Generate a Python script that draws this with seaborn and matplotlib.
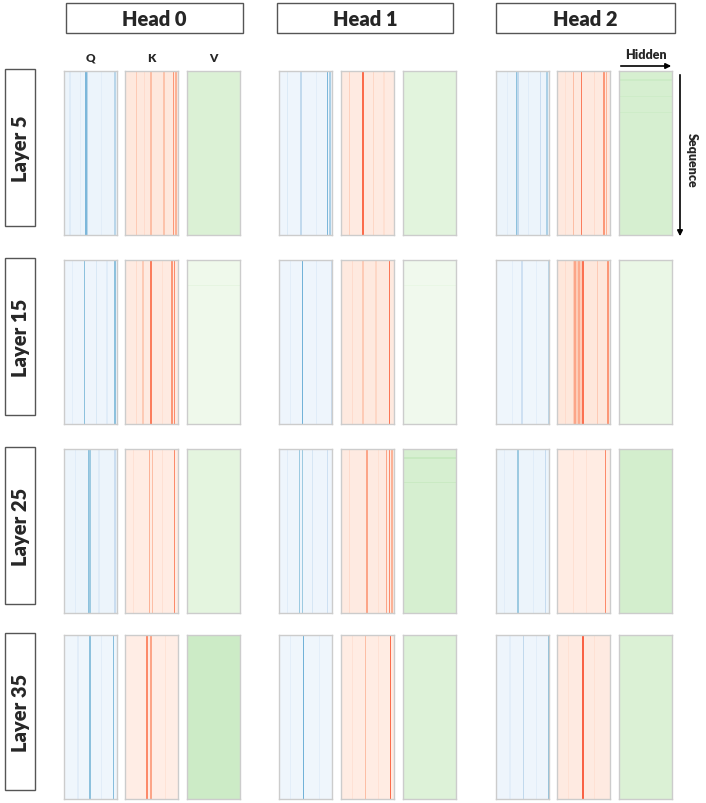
import numpy as np
import matplotlib
matplotlib.use("Agg")
import matplotlib.pyplot as plt
from matplotlib.patches import Rectangle, FancyArrowPatch
import seaborn as sns

sns.set_theme(style="white")
plt.rcParams['font.family'] = ['Lato', 'DejaVu Sans']

heads = ["Head 0", "Head 1", "Head 2"]
layers = ["Layer 5", "Layer 15", "Layer 25", "Layer 35"]
kinds = ["Q", "K", "V"]
cmaps = {"Q": "Blues", "K": "Reds", "V": "Greens"}
vmaxs = {"Q": 1.2, "K": 1.25, "V": 1.0}

# background level of each panel, rows = layers, cols = heads
q_base = [[0.07, 0.06, 0.07], [0.06, 0.06, 0.05], [0.07, 0.06, 0.07], [0.05, 0.05, 0.06]]
k_base = [[0.10, 0.08, 0.09], [0.08, 0.09, 0.11], [0.07, 0.08, 0.07], [0.06, 0.07, 0.08]]
v_base = [[0.17, 0.14, 0.19], [0.06, 0.05, 0.09], [0.13, 0.19, 0.20], [0.23, 0.16, 0.17]]

# dark columns: (position across hidden dim 0-1, level)
q_stripes = [
    [[(0.10, 0.15), (0.30, 0.13), (0.42, 0.55), (0.44, 0.35), (0.70, 0.13), (0.97, 0.35)],
     [(0.15, 0.16), (0.42, 0.32), (0.70, 0.13), (0.92, 0.55), (0.95, 0.40)],
     [(0.20, 0.13), (0.39, 0.50), (0.42, 0.32), (0.62, 0.14), (0.83, 0.28), (0.95, 0.40)]],
    [[(0.15, 0.13), (0.39, 0.50), (0.60, 0.18), (0.80, 0.14), (0.97, 0.50)],
     [(0.20, 0.13), (0.43, 0.58), (0.70, 0.14), (0.98, 0.28)],
     [(0.30, 0.12), (0.49, 0.25), (0.75, 0.12), (0.99, 0.35)]],
    [[(0.20, 0.14), (0.45, 0.50), (0.49, 0.45), (0.65, 0.15), (0.97, 0.28)],
     [(0.15, 0.14), (0.39, 0.45), (0.44, 0.45), (0.64, 0.20), (0.92, 0.25)],
     [(0.15, 0.13), (0.41, 0.45), (0.70, 0.14), (0.93, 0.30)]],
    [[(0.25, 0.13), (0.49, 0.50), (0.70, 0.13), (0.93, 0.52)],
     [(0.20, 0.12), (0.45, 0.58), (0.75, 0.12)],
     [(0.25, 0.12), (0.50, 0.32), (0.75, 0.13), (0.98, 0.50)]],
]
k_stripes = [
    [[(0.20, 0.25), (0.35, 0.18), (0.49, 0.30), (0.73, 0.28), (0.91, 0.45), (0.95, 0.35)],
     [(0.15, 0.22), (0.42, 0.62), (0.60, 0.20), (0.80, 0.16)],
     [(0.15, 0.16), (0.30, 0.30), (0.46, 0.55), (0.70, 0.18), (0.89, 0.45), (0.94, 0.35)]],
    [[(0.20, 0.18), (0.34, 0.25), (0.48, 0.55), (0.70, 0.16), (0.89, 0.45), (0.94, 0.50)],
     [(0.20, 0.18), (0.42, 0.25), (0.65, 0.20), (0.92, 0.58)],
     [(0.15, 0.18), (0.34, 0.40), (0.42, 0.38), (0.49, 0.60), (0.75, 0.25), (0.96, 0.45)]],
    [[(0.15, 0.15), (0.46, 0.35), (0.50, 0.30), (0.70, 0.16), (0.94, 0.50)],
     [(0.15, 0.18), (0.49, 0.40), (0.70, 0.16), (0.87, 0.40), (0.91, 0.50), (0.97, 0.35)],
     [(0.30, 0.16), (0.55, 0.15), (0.90, 0.50)]],
    [[(0.41, 0.50), (0.49, 0.40), (0.75, 0.14)],
     [(0.20, 0.15), (0.45, 0.30), (0.70, 0.15), (0.93, 0.62)],
     [(0.20, 0.15), (0.49, 0.65), (0.70, 0.15)]],
]
# wider darker bands: (start, end, level) across hidden dim
k_bands = [[[], [], []],
           [[], [], [(0.32, 0.52, 0.24)]],
           [[], [], []],
           [[], [], []]]
# darker rows in V: (position down the sequence 0-1, level)
v_rows = [[[], [], [(0.05, 0.23), (0.15, 0.22), (0.25, 0.22)]],
          [[(0.15, 0.12)], [(0.15, 0.10)], []],
          [[], [(0.05, 0.25), (0.20, 0.24)], []],
          [[], [], []]]

n_rows, n_cols = 120, 40

# panel positions in pixels
col_x = [[64, 125, 187], [279, 341, 403], [496, 557, 619]]
row_y = [72, 261, 450, 636]
pw, ph = 53, 164
W, H = 706, 804


def panel_matrix(li, hi, kind):
    if kind == "Q":
        m = np.full((n_rows, n_cols), q_base[li][hi])
        cols = q_stripes[li][hi]
    elif kind == "K":
        m = np.full((n_rows, n_cols), k_base[li][hi])
        cols = k_stripes[li][hi]
        for a, b, lv in k_bands[li][hi]:
            sl = slice(int(a * n_cols), int(b * n_cols))
            m[:, sl] = np.maximum(m[:, sl], lv)
    else:
        m = np.full((n_rows, n_cols), v_base[li][hi])
        cols = []
        for p, lv in v_rows[li][hi]:
            m[min(int(p * n_rows), n_rows - 1), :] = lv
    for p, lv in cols:
        j = min(int(p * n_cols), n_cols - 1)
        m[:, j] = np.maximum(m[:, j], lv)
    return m


fig = plt.figure(figsize=(W / 100, H / 100), dpi=100)


def fx(x):
    return x / W


def fy(y):
    return 1 - y / H


for li in range(4):
    for hi in range(3):
        for ki, kind in enumerate(kinds):
            x0 = col_x[hi][ki]
            y0 = row_y[li]
            ax = fig.add_axes([fx(x0), fy(y0 + ph), pw / W, ph / H])
            sns.heatmap(panel_matrix(li, hi, kind), ax=ax, cmap=cmaps[kind], vmin=0, vmax=vmaxs[kind],
                        cbar=False, xticklabels=False, yticklabels=False)
            for s in ax.spines.values():
                s.set_visible(True)
                s.set_color("#cccccc")
                s.set_linewidth(1.0)

# head title boxes
head_x = [(66, 243), (277, 453), (496, 675)]
for (a, b), name in zip(head_x, heads):
    fig.patches.append(Rectangle((fx(a), fy(34)), (b - a) / W, 30 / H, transform=fig.transFigure,
                                 facecolor="white", edgecolor="#555555", lw=1.0))
    fig.text(fx((a + b) / 2), fy(19), name, ha="center", va="center", fontsize=14.5, fontweight="heavy")

# layer boxes
for y0, name in zip(row_y, layers):
    top, bot = y0 - 2, y0 + 155
    fig.patches.append(Rectangle((fx(5), fy(bot)), 30 / W, (bot - top) / H, transform=fig.transFigure,
                                 facecolor="white", edgecolor="#555555", lw=1.0))
    fig.text(fx(20), fy((top + bot) / 2), name, ha="center", va="center", rotation=90,
             fontsize=14.5, fontweight="heavy")

# Q K V labels
for ki, kind in enumerate(kinds):
    fig.text(fx(col_x[0][ki] + pw / 2), fy(58), kind, ha="center", va="center",
             fontsize=8.5, fontweight="heavy")

# axis direction arrows
fig.patches.append(FancyArrowPatch((fx(618), fy(67)), (fx(674), fy(67)),
                   transform=fig.transFigure, arrowstyle="-|>", mutation_scale=8, color="black", lw=1.2))
fig.text(fx(646), fy(55), "Hidden", ha="center", va="center", fontsize=9, fontweight="heavy")
fig.patches.append(FancyArrowPatch((fx(680), fy(73)), (fx(680), fy(240)),
                   transform=fig.transFigure, arrowstyle="-|>", mutation_scale=8, color="black", lw=1.2))
fig.text(fx(692), fy(160), "Sequence", ha="center", va="center", rotation=-90,
         fontsize=9, fontweight="heavy")

fig.savefig("out.png", dpi=100, facecolor="white")
